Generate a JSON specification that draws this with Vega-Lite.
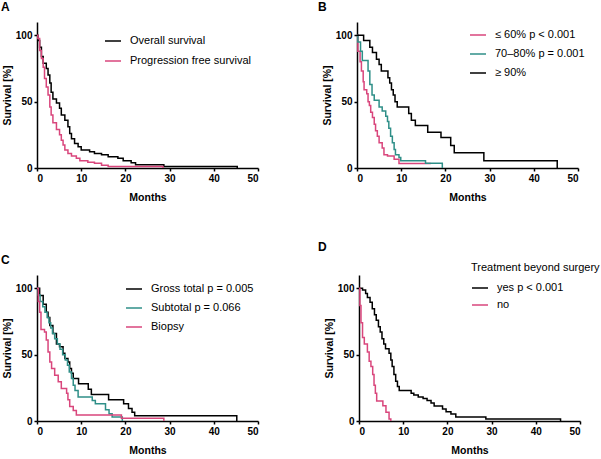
{
  "$schema": "https://vega.github.io/schema/vega-lite/v6.json",
  "padding": {"left": 1, "top": 1, "right": 0, "bottom": 0},
  "background": "white",
  "datasets": {
    "A": [
      {"g": "Overall survival", "t": 0, "s": 100}, {"g": "Overall survival", "t": 0.2, "s": 96}, {"g": "Overall survival", "t": 0.6, "s": 91}, {"g": "Overall survival", "t": 1.0, "s": 84}, {"g": "Overall survival", "t": 1.4, "s": 79}, {"g": "Overall survival", "t": 2.1, "s": 75}, {"g": "Overall survival", "t": 2.5, "s": 70}, {"g": "Overall survival", "t": 2.9, "s": 64}, {"g": "Overall survival", "t": 3.2, "s": 57}, {"g": "Overall survival", "t": 3.6, "s": 52}, {"g": "Overall survival", "t": 4.4, "s": 49}, {"g": "Overall survival", "t": 5.1, "s": 45}, {"g": "Overall survival", "t": 5.5, "s": 40}, {"g": "Overall survival", "t": 6.3, "s": 36}, {"g": "Overall survival", "t": 7.0, "s": 31}, {"g": "Overall survival", "t": 7.4, "s": 26}, {"g": "Overall survival", "t": 7.8, "s": 22}, {"g": "Overall survival", "t": 8.5, "s": 18.5}, {"g": "Overall survival", "t": 9.3, "s": 16}, {"g": "Overall survival", "t": 10.0, "s": 13.5}, {"g": "Overall survival", "t": 11.9, "s": 12.3}, {"g": "Overall survival", "t": 13.0, "s": 11}, {"g": "Overall survival", "t": 14.6, "s": 10}, {"g": "Overall survival", "t": 16.1, "s": 8.5}, {"g": "Overall survival", "t": 18.3, "s": 7.3}, {"g": "Overall survival", "t": 19.5, "s": 5.5}, {"g": "Overall survival", "t": 21.3, "s": 4}, {"g": "Overall survival", "t": 22.3, "s": 2.5}, {"g": "Overall survival", "t": 28.7, "s": 1.2}, {"g": "Overall survival", "t": 45.3, "s": 0},
      {"g": "Progression free survival", "t": 0, "s": 100}, {"g": "Progression free survival", "t": 0.2, "s": 97.5}, {"g": "Progression free survival", "t": 0.6, "s": 88.5}, {"g": "Progression free survival", "t": 1.0, "s": 82.5}, {"g": "Progression free survival", "t": 1.4, "s": 76}, {"g": "Progression free survival", "t": 1.7, "s": 67.5}, {"g": "Progression free survival", "t": 2.1, "s": 61}, {"g": "Progression free survival", "t": 2.5, "s": 55}, {"g": "Progression free survival", "t": 2.9, "s": 46}, {"g": "Progression free survival", "t": 3.2, "s": 40}, {"g": "Progression free survival", "t": 3.6, "s": 34}, {"g": "Progression free survival", "t": 4.4, "s": 29}, {"g": "Progression free survival", "t": 5.1, "s": 25}, {"g": "Progression free survival", "t": 5.5, "s": 21}, {"g": "Progression free survival", "t": 5.9, "s": 17.3}, {"g": "Progression free survival", "t": 6.3, "s": 13.5}, {"g": "Progression free survival", "t": 7.0, "s": 11}, {"g": "Progression free survival", "t": 7.8, "s": 9}, {"g": "Progression free survival", "t": 8.9, "s": 7.3}, {"g": "Progression free survival", "t": 9.7, "s": 5.5}, {"g": "Progression free survival", "t": 11.5, "s": 4.3}, {"g": "Progression free survival", "t": 13.0, "s": 3.5}, {"g": "Progression free survival", "t": 14.6, "s": 2}, {"g": "Progression free survival", "t": 16.1, "s": 1.2}, {"g": "Progression free survival", "t": 28.5, "s": 0}
    ],
    "B": [
      {"g": "≤ 60% p < 0.001", "t": 0, "s": 100}, {"g": "≤ 60% p < 0.001", "t": 0.2, "s": 88}, {"g": "≤ 60% p < 0.001", "t": 0.7, "s": 80}, {"g": "≤ 60% p < 0.001", "t": 1.0, "s": 73}, {"g": "≤ 60% p < 0.001", "t": 1.4, "s": 65}, {"g": "≤ 60% p < 0.001", "t": 1.6, "s": 59}, {"g": "≤ 60% p < 0.001", "t": 2.2, "s": 56}, {"g": "≤ 60% p < 0.001", "t": 2.5, "s": 50}, {"g": "≤ 60% p < 0.001", "t": 2.8, "s": 47}, {"g": "≤ 60% p < 0.001", "t": 3.1, "s": 42}, {"g": "≤ 60% p < 0.001", "t": 3.5, "s": 38}, {"g": "≤ 60% p < 0.001", "t": 3.9, "s": 33}, {"g": "≤ 60% p < 0.001", "t": 4.2, "s": 28}, {"g": "≤ 60% p < 0.001", "t": 4.6, "s": 24}, {"g": "≤ 60% p < 0.001", "t": 5.0, "s": 19}, {"g": "≤ 60% p < 0.001", "t": 5.7, "s": 15}, {"g": "≤ 60% p < 0.001", "t": 6.1, "s": 10}, {"g": "≤ 60% p < 0.001", "t": 6.9, "s": 9}, {"g": "≤ 60% p < 0.001", "t": 8.4, "s": 6.5}, {"g": "≤ 60% p < 0.001", "t": 9.5, "s": 3.3}, {"g": "≤ 60% p < 0.001", "t": 16.7, "s": 3.3},
      {"g": "70–80% p = 0.001", "t": 0, "s": 100}, {"g": "70–80% p = 0.001", "t": 0.2, "s": 95}, {"g": "70–80% p = 0.001", "t": 0.8, "s": 88}, {"g": "70–80% p = 0.001", "t": 1.2, "s": 81}, {"g": "70–80% p = 0.001", "t": 2.5, "s": 73}, {"g": "70–80% p = 0.001", "t": 2.9, "s": 63}, {"g": "70–80% p = 0.001", "t": 3.4, "s": 55}, {"g": "70–80% p = 0.001", "t": 3.9, "s": 51}, {"g": "70–80% p = 0.001", "t": 5.0, "s": 46}, {"g": "70–80% p = 0.001", "t": 5.7, "s": 43}, {"g": "70–80% p = 0.001", "t": 6.5, "s": 39}, {"g": "70–80% p = 0.001", "t": 6.9, "s": 35}, {"g": "70–80% p = 0.001", "t": 7.2, "s": 30}, {"g": "70–80% p = 0.001", "t": 7.6, "s": 24}, {"g": "70–80% p = 0.001", "t": 8.0, "s": 19}, {"g": "70–80% p = 0.001", "t": 8.4, "s": 14}, {"g": "70–80% p = 0.001", "t": 8.7, "s": 10}, {"g": "70–80% p = 0.001", "t": 9.5, "s": 8}, {"g": "70–80% p = 0.001", "t": 9.9, "s": 5.5}, {"g": "70–80% p = 0.001", "t": 15.5, "s": 3.5}, {"g": "70–80% p = 0.001", "t": 19.3, "s": 0},
      {"g": "≥ 90%", "t": 0, "s": 100}, {"g": "≥ 90%", "t": 1.5, "s": 96}, {"g": "≥ 90%", "t": 2.9, "s": 91}, {"g": "≥ 90%", "t": 3.5, "s": 87}, {"g": "≥ 90%", "t": 4.4, "s": 82}, {"g": "≥ 90%", "t": 5.0, "s": 78}, {"g": "≥ 90%", "t": 5.5, "s": 73}, {"g": "≥ 90%", "t": 7.0, "s": 68}, {"g": "≥ 90%", "t": 7.4, "s": 64}, {"g": "≥ 90%", "t": 7.8, "s": 59}, {"g": "≥ 90%", "t": 8.2, "s": 55}, {"g": "≥ 90%", "t": 8.6, "s": 50}, {"g": "≥ 90%", "t": 9.1, "s": 46}, {"g": "≥ 90%", "t": 11.7, "s": 41}, {"g": "≥ 90%", "t": 12.3, "s": 36}, {"g": "≥ 90%", "t": 13.2, "s": 32}, {"g": "≥ 90%", "t": 16.0, "s": 27}, {"g": "≥ 90%", "t": 19.0, "s": 23}, {"g": "≥ 90%", "t": 21.2, "s": 17}, {"g": "≥ 90%", "t": 22.0, "s": 11.5}, {"g": "≥ 90%", "t": 28.7, "s": 5.5}, {"g": "≥ 90%", "t": 45.3, "s": 0}
    ],
    "C": [
      {"g": "Gross total p = 0.005", "t": 0, "s": 100}, {"g": "Gross total p = 0.005", "t": 0.6, "s": 94.5}, {"g": "Gross total p = 0.005", "t": 1.4, "s": 88}, {"g": "Gross total p = 0.005", "t": 2.1, "s": 82}, {"g": "Gross total p = 0.005", "t": 2.5, "s": 78}, {"g": "Gross total p = 0.005", "t": 2.9, "s": 72}, {"g": "Gross total p = 0.005", "t": 3.6, "s": 66}, {"g": "Gross total p = 0.005", "t": 4.4, "s": 58}, {"g": "Gross total p = 0.005", "t": 5.1, "s": 56}, {"g": "Gross total p = 0.005", "t": 5.9, "s": 51}, {"g": "Gross total p = 0.005", "t": 6.3, "s": 47}, {"g": "Gross total p = 0.005", "t": 7.0, "s": 44.5}, {"g": "Gross total p = 0.005", "t": 7.4, "s": 39.5}, {"g": "Gross total p = 0.005", "t": 7.8, "s": 36}, {"g": "Gross total p = 0.005", "t": 8.2, "s": 32}, {"g": "Gross total p = 0.005", "t": 9.4, "s": 28}, {"g": "Gross total p = 0.005", "t": 11.6, "s": 24}, {"g": "Gross total p = 0.005", "t": 12.3, "s": 20}, {"g": "Gross total p = 0.005", "t": 16.2, "s": 16}, {"g": "Gross total p = 0.005", "t": 19.6, "s": 13}, {"g": "Gross total p = 0.005", "t": 20.7, "s": 9.5}, {"g": "Gross total p = 0.005", "t": 21.5, "s": 6.5}, {"g": "Gross total p = 0.005", "t": 22.1, "s": 4}, {"g": "Gross total p = 0.005", "t": 45.2, "s": 0},
      {"g": "Subtotal p = 0.066", "t": 0, "s": 100}, {"g": "Subtotal p = 0.066", "t": 0.3, "s": 95}, {"g": "Subtotal p = 0.066", "t": 0.7, "s": 90}, {"g": "Subtotal p = 0.066", "t": 1.3, "s": 86}, {"g": "Subtotal p = 0.066", "t": 1.8, "s": 82}, {"g": "Subtotal p = 0.066", "t": 2.3, "s": 78}, {"g": "Subtotal p = 0.066", "t": 2.7, "s": 74}, {"g": "Subtotal p = 0.066", "t": 3.1, "s": 70}, {"g": "Subtotal p = 0.066", "t": 3.5, "s": 66}, {"g": "Subtotal p = 0.066", "t": 4.0, "s": 62}, {"g": "Subtotal p = 0.066", "t": 4.6, "s": 58}, {"g": "Subtotal p = 0.066", "t": 5.2, "s": 54}, {"g": "Subtotal p = 0.066", "t": 5.8, "s": 50}, {"g": "Subtotal p = 0.066", "t": 6.4, "s": 46}, {"g": "Subtotal p = 0.066", "t": 6.9, "s": 42}, {"g": "Subtotal p = 0.066", "t": 7.3, "s": 37}, {"g": "Subtotal p = 0.066", "t": 7.8, "s": 32}, {"g": "Subtotal p = 0.066", "t": 8.2, "s": 27}, {"g": "Subtotal p = 0.066", "t": 8.6, "s": 23}, {"g": "Subtotal p = 0.066", "t": 9.3, "s": 18}, {"g": "Subtotal p = 0.066", "t": 12.5, "s": 15.5}, {"g": "Subtotal p = 0.066", "t": 13.2, "s": 13}, {"g": "Subtotal p = 0.066", "t": 15.5, "s": 8.5}, {"g": "Subtotal p = 0.066", "t": 16.3, "s": 5.5}, {"g": "Subtotal p = 0.066", "t": 17.0, "s": 3}, {"g": "Subtotal p = 0.066", "t": 19.3, "s": 0},
      {"g": "Biopsy", "t": 0, "s": 100}, {"g": "Biopsy", "t": 0.3, "s": 90}, {"g": "Biopsy", "t": 0.6, "s": 82}, {"g": "Biopsy", "t": 0.9, "s": 69}, {"g": "Biopsy", "t": 1.7, "s": 67}, {"g": "Biopsy", "t": 2.1, "s": 61}, {"g": "Biopsy", "t": 2.5, "s": 52}, {"g": "Biopsy", "t": 2.9, "s": 44.5}, {"g": "Biopsy", "t": 3.3, "s": 39.5}, {"g": "Biopsy", "t": 4.0, "s": 34.5}, {"g": "Biopsy", "t": 4.8, "s": 29.5}, {"g": "Biopsy", "t": 5.5, "s": 24.5}, {"g": "Biopsy", "t": 6.7, "s": 21}, {"g": "Biopsy", "t": 7.0, "s": 16}, {"g": "Biopsy", "t": 7.4, "s": 11}, {"g": "Biopsy", "t": 8.2, "s": 8}, {"g": "Biopsy", "t": 8.9, "s": 4.5}, {"g": "Biopsy", "t": 19.1, "s": 2}, {"g": "Biopsy", "t": 28.7, "s": 0}
    ],
    "D": [
      {"g": "yes p < 0.001", "t": 0, "s": 100}, {"g": "yes p < 0.001", "t": 0.8, "s": 98.7}, {"g": "yes p < 0.001", "t": 1.5, "s": 96}, {"g": "yes p < 0.001", "t": 1.9, "s": 93}, {"g": "yes p < 0.001", "t": 2.5, "s": 89.5}, {"g": "yes p < 0.001", "t": 3.0, "s": 84.5}, {"g": "yes p < 0.001", "t": 3.5, "s": 80}, {"g": "yes p < 0.001", "t": 3.9, "s": 76}, {"g": "yes p < 0.001", "t": 4.4, "s": 71}, {"g": "yes p < 0.001", "t": 4.8, "s": 67}, {"g": "yes p < 0.001", "t": 5.2, "s": 62}, {"g": "yes p < 0.001", "t": 5.6, "s": 58}, {"g": "yes p < 0.001", "t": 6.0, "s": 54.5}, {"g": "yes p < 0.001", "t": 6.8, "s": 51}, {"g": "yes p < 0.001", "t": 7.2, "s": 46}, {"g": "yes p < 0.001", "t": 7.5, "s": 41}, {"g": "yes p < 0.001", "t": 7.9, "s": 35}, {"g": "yes p < 0.001", "t": 8.3, "s": 30}, {"g": "yes p < 0.001", "t": 8.7, "s": 26}, {"g": "yes p < 0.001", "t": 9.1, "s": 23}, {"g": "yes p < 0.001", "t": 11.8, "s": 21}, {"g": "yes p < 0.001", "t": 12.4, "s": 19.5}, {"g": "yes p < 0.001", "t": 13.4, "s": 18}, {"g": "yes p < 0.001", "t": 14.5, "s": 17}, {"g": "yes p < 0.001", "t": 15.4, "s": 15.5}, {"g": "yes p < 0.001", "t": 16.3, "s": 13.5}, {"g": "yes p < 0.001", "t": 17.0, "s": 11.3}, {"g": "yes p < 0.001", "t": 18.9, "s": 9}, {"g": "yes p < 0.001", "t": 19.7, "s": 7}, {"g": "yes p < 0.001", "t": 20.8, "s": 5.3}, {"g": "yes p < 0.001", "t": 21.9, "s": 3.1}, {"g": "yes p < 0.001", "t": 28.7, "s": 1.5}, {"g": "yes p < 0.001", "t": 45.6, "s": 0},
      {"g": "no", "t": 0, "s": 100}, {"g": "no", "t": 0.2, "s": 87}, {"g": "no", "t": 0.45, "s": 74}, {"g": "no", "t": 0.8, "s": 63}, {"g": "no", "t": 1.2, "s": 58}, {"g": "no", "t": 1.9, "s": 52}, {"g": "no", "t": 2.3, "s": 45}, {"g": "no", "t": 2.7, "s": 41}, {"g": "no", "t": 3.1, "s": 35}, {"g": "no", "t": 3.4, "s": 27}, {"g": "no", "t": 3.7, "s": 21}, {"g": "no", "t": 4.0, "s": 15}, {"g": "no", "t": 5.4, "s": 11.5}, {"g": "no", "t": 6.1, "s": 6.5}, {"g": "no", "t": 6.8, "s": 1.5}, {"g": "no", "t": 7.2, "s": 0}
    ]
  },
  "vconcat": [
    {
      "hconcat": [
        {
          "title": {"text": "A", "dx": -36},
          "width": 221, "height": 146,
          "data": {"name": "A"},
          "mark": {"type": "line", "interpolate": "step-after", "strokeWidth": 1.5},
          "encoding": {
            "x": {"field": "t", "type": "quantitative", "scale": {"domain": [0, 50], "nice": false}, "axis": {"values": [0, 10, 20, 30, 40, 50], "title": "Months"}},
            "y": {"field": "s", "type": "quantitative", "scale": {"domain": [0, 110], "nice": false}, "axis": {"values": [0, 50, 100], "title": "Survival [%]"}},
            "color": {"field": "g", "type": "nominal", "scale": {"domain": ["Overall survival", "Progression free survival"], "range": ["#000000", "#d9467c"]}, "legend": {"title": null, "legendX": 67, "legendY": 10, "rowPadding": 6}}
          }
        },
        {
          "title": {"text": "B", "dx": -39},
          "width": 221, "height": 146,
          "data": {"name": "B"},
          "mark": {"type": "line", "interpolate": "step-after", "strokeWidth": 1.5},
          "encoding": {
            "x": {"field": "t", "type": "quantitative", "scale": {"domain": [0, 50], "nice": false}, "axis": {"values": [0, 10, 20, 30, 40, 50], "title": "Months"}},
            "y": {"field": "s", "type": "quantitative", "scale": {"domain": [0, 110], "nice": false}, "axis": {"values": [0, 50, 100], "title": "Survival [%]"}},
            "color": {"field": "g", "type": "nominal", "scale": {"domain": ["≤ 60% p < 0.001", "70–80% p = 0.001", "≥ 90%"], "range": ["#d9467c", "#2f8f88", "#000000"]}, "legend": {"title": null, "legendX": 112, "legendY": 4}}
          }
        }
      ],
      "spacing": 59,
      "resolve": {"scale": {"color": "independent", "x": "independent", "y": "independent"}, "legend": {"color": "independent"}}
    },
    {
      "hconcat": [
        {
          "title": {"text": "C", "dx": -36},
          "width": 221, "height": 146,
          "data": {"name": "C"},
          "mark": {"type": "line", "interpolate": "step-after", "strokeWidth": 1.5},
          "encoding": {
            "x": {"field": "t", "type": "quantitative", "scale": {"domain": [0, 50], "nice": false}, "axis": {"values": [0, 10, 20, 30, 40, 50], "title": "Months"}},
            "y": {"field": "s", "type": "quantitative", "scale": {"domain": [0, 110], "nice": false}, "axis": {"values": [0, 50, 100], "title": "Survival [%]"}},
            "color": {"field": "g", "type": "nominal", "scale": {"domain": ["Gross total p = 0.005", "Subtotal p = 0.066", "Biopsy"], "range": ["#000000", "#2f8f88", "#d9467c"]}, "legend": {"title": null, "legendX": 88, "legendY": 5}}
          }
        },
        {
          "title": {"text": "D", "dx": -41},
          "width": 221, "height": 146,
          "data": {"name": "D"},
          "mark": {"type": "line", "interpolate": "step-after", "strokeWidth": 1.5},
          "encoding": {
            "x": {"field": "t", "type": "quantitative", "scale": {"domain": [0, 50], "nice": false}, "axis": {"values": [0, 10, 20, 30, 40, 50], "title": "Months"}},
            "y": {"field": "s", "type": "quantitative", "scale": {"domain": [0, 110], "nice": false}, "axis": {"values": [0, 50, 100], "title": "Survival [%]"}},
            "color": {"field": "g", "type": "nominal", "scale": {"domain": ["yes p < 0.001", "no"], "range": ["#000000", "#d9467c"]}, "legend": {"title": "Treatment beyond surgery", "legendX": 112, "legendY": -13, "titlePadding": 6, "rowPadding": 3}}
          }
        }
      ],
      "spacing": 59,
      "resolve": {"scale": {"color": "independent", "x": "independent", "y": "independent"}, "legend": {"color": "independent"}}
    }
  ],
  "spacing": 38,
  "resolve": {"scale": {"color": "independent", "x": "independent", "y": "independent"}, "legend": {"color": "independent"}},
  "config": {
    "font": "Liberation Sans",
    "view": {"stroke": null},
    "axis": {
      "grid": false, "domainColor": "#000000", "domainWidth": 1.5, "tickColor": "#000000", "tickWidth": 1.5, "tickSize": 3,
      "labelFont": "Liberation Sans", "labelFontSize": 10, "labelFontWeight": "bold", "labelColor": "#000000", "labelPadding": 2,
      "titleFont": "Liberation Sans", "titleFontSize": 10.5, "titleFontWeight": "bold", "titleColor": "#000000"
    },
    "axisY": {"titlePadding": 3},
    "axisX": {"titlePadding": 9},
    "legend": {
      "orient": "none", "symbolType": "stroke", "symbolSize": 256, "symbolStrokeWidth": 1.5,
      "labelFont": "Liberation Sans", "labelFontSize": 11, "labelColor": "#000000", "labelOffset": 8, "labelLimit": 300,
      "titleFont": "Liberation Sans", "titleFontSize": 11, "titleFontWeight": "normal", "titleColor": "#000000", "titleLimit": 300,
      "rowPadding": 5, "padding": 0
    },
    "title": {"font": "Liberation Sans", "fontSize": 12, "fontWeight": "bold", "anchor": "start", "offset": 8, "color": "#000000", "frame": "group"}
  }
}
